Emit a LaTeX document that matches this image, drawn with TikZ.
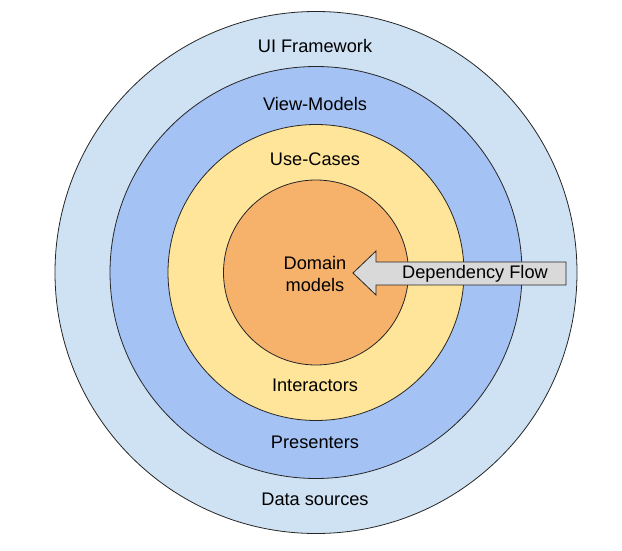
\documentclass[tikz,border=0pt]{standalone}
\usepackage{fontspec}
\setmainfont{Liberation Sans}
\definecolor{ringA}{HTML}{CFE2F3}
\definecolor{ringB}{HTML}{A4C2F4}
\definecolor{ringC}{HTML}{FFE599}
\definecolor{ringD}{HTML}{F6B26B}
\definecolor{arrowgray}{HTML}{D9D9D9}
\begin{document}
\begin{tikzpicture}[x=1pt,y=-1pt,
  ring/.style={draw=black!85,line width=0.8pt},
  lbl/.style={font=\fontsize{18.2}{21.5}\selectfont,text=black,inner sep=0pt,align=center}]
\useasboundingbox (0,0) rectangle (622,551);
\coordinate (c) at (316,272.5);
\fill[white] (0,0) rectangle (622,551);
\draw[ring,fill=ringA] (c) circle[radius=261];
\draw[ring,fill=ringB] (c) circle[radius=206];
\draw[ring,fill=ringC] (c) circle[radius=148];
\draw[ring,fill=ringD] (c) circle[radius=92.5];
\node[lbl] (ui) at (315,46) {UI Framework};
\node[lbl] (vm) at (315,104) {View-Models};
\node[lbl] (uc) at (315,159) {Use-Cases};
\node[lbl] (dm) at (315,274) {Domain\\models};
\node[lbl] (ia) at (315,385) {Interactors};
\node[lbl] (pr) at (315,442) {Presenters};
\node[lbl] (ds) at (315,499) {Data sources};
\draw[line width=0.8pt,draw=black!85,fill=arrowgray,line join=miter]
  (353,273) -- (376,251) -- (376,262) -- (566,262) -- (566,285) -- (376,285) -- (376,295) -- cycle;
\node[lbl] (df) at (475,273.5) {Dependency Flow};
\end{tikzpicture}
\end{document}
